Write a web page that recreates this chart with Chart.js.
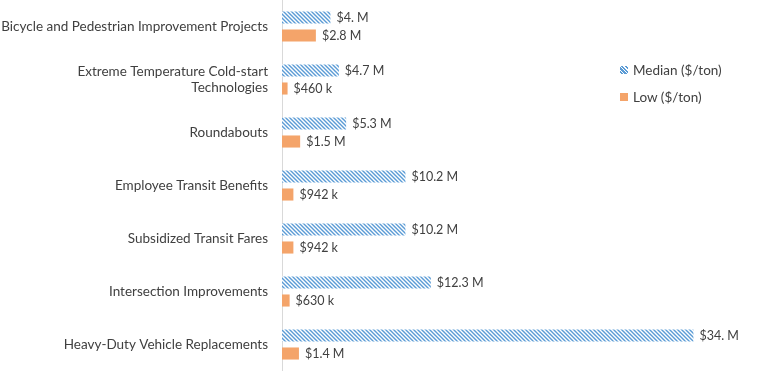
<!DOCTYPE html>
<html>
<head>
<meta charset="utf-8">
<script src="https://cdn.jsdelivr.net/npm/chart.js@4/dist/chart.umd.min.js"></script>
<style>
  body { margin: 0; background: #fff; }
  #wrap { position: relative; width: 780px; height: 371px; }
  #legend { position: absolute; left: 620px; top: 56px; font: 13.5px Lato, sans-serif; color: #404040; }
  #legend div { height: 27px; display: flex; align-items: center; }
  #legend span.box { display: inline-block; width: 8px; height: 8px; margin-right: 5px; }
</style>
</head>
<body>
<div id="wrap">
  <canvas id="chart" width="780" height="371"></canvas>
  <div id="legend"></div>
</div>
<script>
// categories top to bottom
const categories = [
  'Bicycle and Pedestrian Improvement Projects',
  ['Extreme Temperature Cold-start', 'Technologies'],
  'Roundabouts',
  'Employee Transit Benefits',
  'Subsidized Transit Fares',
  'Intersection Improvements',
  'Heavy-Duty Vehicle Replacements'
];
const seriesNames = ['Median ($/ton)', 'Low ($/ton)'];
// dollars per ton
const medianValues = [4.0e6, 4.7e6, 5.3e6, 10.2e6, 10.2e6, 12.3e6, 34.0e6];
const lowValues = [2.8e6, 460e3, 1.5e6, 942e3, 942e3, 630e3, 1.4e6];

const blue = '#5B9BD5';
const orange = '#F4A46A';

function hatch(color) {
  const c = document.createElement('canvas');
  c.width = 4; c.height = 4;
  const g = c.getContext('2d');
  g.fillStyle = '#fff';
  g.fillRect(0, 0, 4, 4);
  g.strokeStyle = color;
  g.lineWidth = 1.4;
  g.beginPath();
  g.moveTo(-1, -1); g.lineTo(5, 5);
  g.moveTo(-1, 3); g.lineTo(1, 5);
  g.moveTo(3, -1); g.lineTo(5, 1);
  g.stroke();
  return g.createPattern(c, 'repeat');
}

function fmt(v) {
  if (v >= 1e6) return '$' + (v / 1e6).toFixed(1).replace(/\.0$/, '.') + ' M';
  return '$' + Math.round(v / 1e3) + ' k';
}

const ctx = document.getElementById('chart').getContext('2d');
const medianFill = hatch(blue);

const valueLabels = {
  id: 'valueLabels',
  afterDatasetsDraw(chart) {
    const c = chart.ctx;
    c.save();
    c.font = '12.5px Lato, sans-serif';
    c.fillStyle = '#404040';
    c.textBaseline = 'middle';
    chart.data.datasets.forEach((ds, i) => {
      chart.getDatasetMeta(i).data.forEach((el, j) => {
        c.fillText(fmt(ds.data[j]), el.x + 6, el.y);
      });
    });
    c.restore();
  }
};

new Chart(ctx, {
  type: 'bar',
  data: {
    labels: categories,
    datasets: [
      { label: seriesNames[0], data: medianValues, backgroundColor: medianFill },
      { label: seriesNames[1], data: lowValues, backgroundColor: orange }
    ]
  },
  options: {
    indexAxis: 'y',
    responsive: false,
    animation: false,
    categoryPercentage: 0.68,
    barPercentage: 0.67,
    layout: { padding: { left: 0, right: 14, top: 0, bottom: 0 } },
    plugins: { legend: { display: false }, tooltip: { enabled: false } },
    scales: {
      x: { display: false, min: 0, max: 40e6 },
      y: {
        grid: { display: false, drawTicks: false },
        border: { display: true, color: '#D9D9D9', width: 1 },
        ticks: { color: '#404040', font: { family: 'Lato', size: 13.5 }, padding: 14 },
        afterFit(s) { s.width = 282; s.paddingTop = 0; s.paddingBottom = 0; }
      }
    }
  },
  plugins: [valueLabels]
});

const legend = document.getElementById('legend');
[medianFill, orange].forEach((fill, i) => {
  const row = document.createElement('div');
  const box = document.createElement('span');
  box.className = 'box';
  if (i === 0) box.style.background = 'repeating-linear-gradient(45deg, #fff 0 1px, ' + blue + ' 1px 2.5px)';
  else box.style.background = orange;
  row.appendChild(box);
  row.appendChild(document.createTextNode(seriesNames[i]));
  legend.appendChild(row);
});
</script>
</body>
</html>
